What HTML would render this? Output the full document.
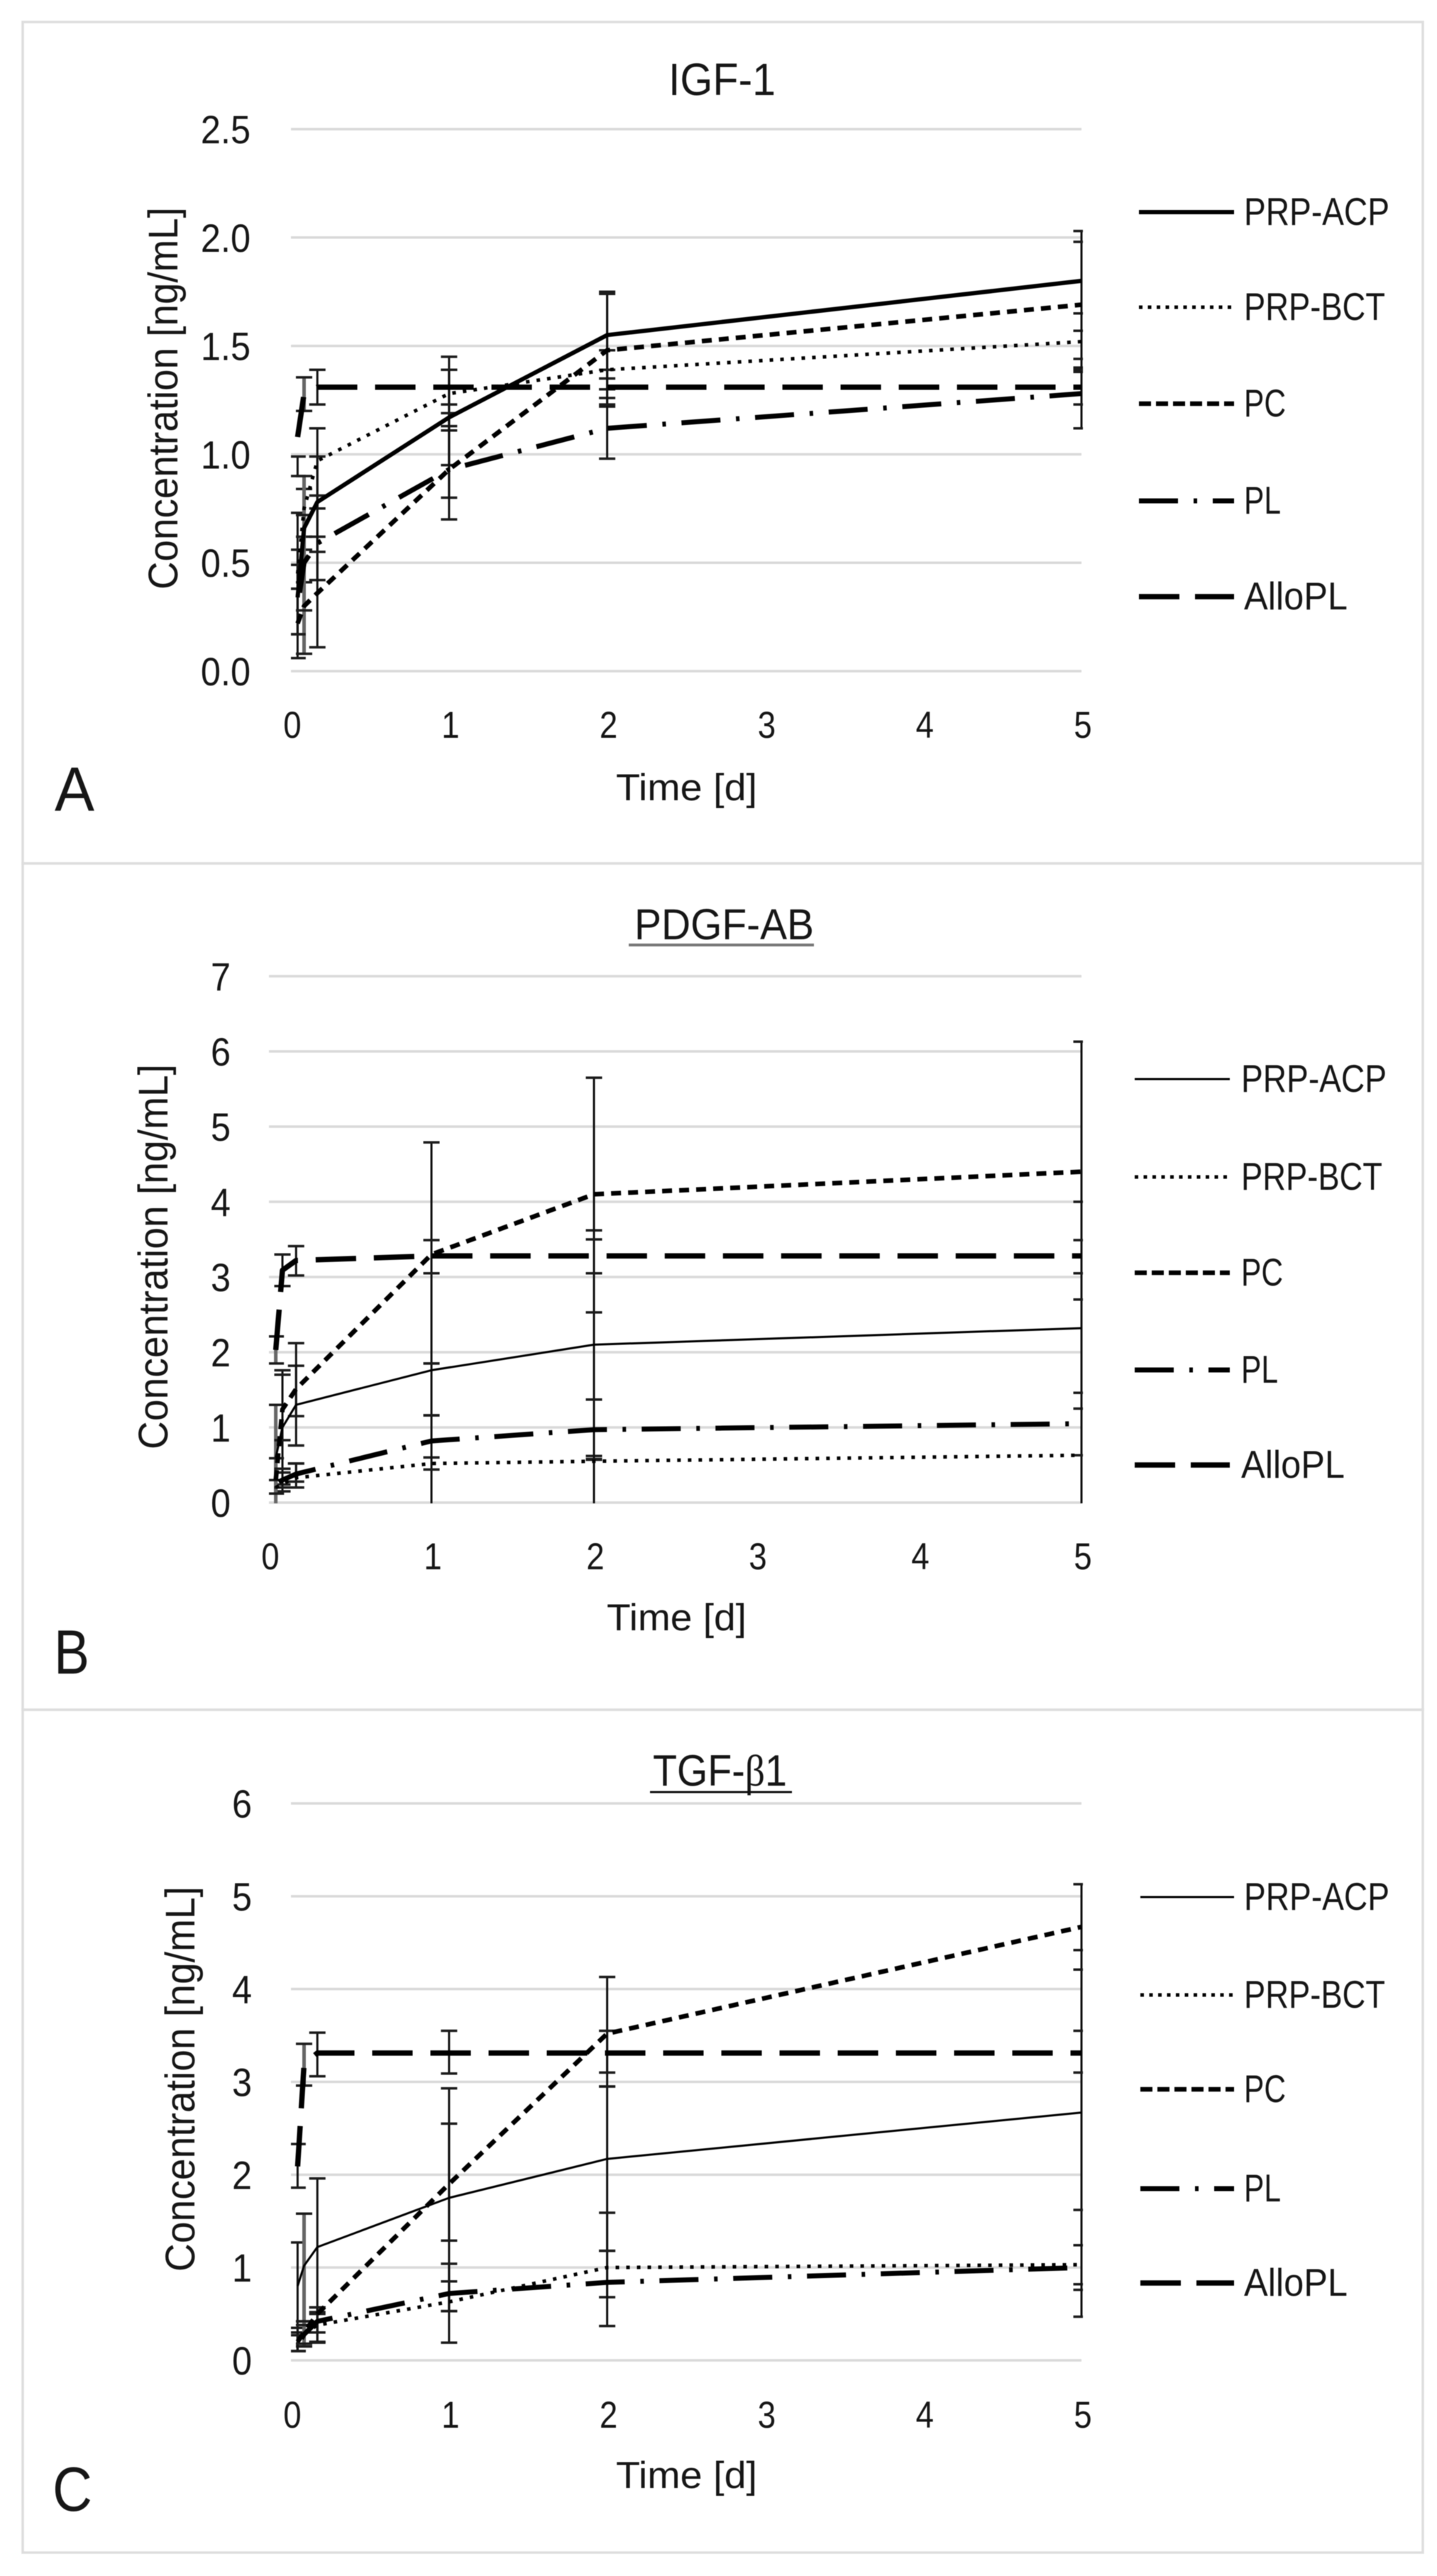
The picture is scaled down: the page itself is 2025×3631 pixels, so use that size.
<!DOCTYPE html>
<html lang="en">
<head>
<meta charset="utf-8">
<title>Growth factor release over time</title>
<style>
html,body{margin:0;padding:0;background:#fff;}
svg{display:block;filter:blur(0.6px);}
text{font-family:"Liberation Sans","DejaVu Sans",sans-serif;fill:#161616;}
</style>
</head>
<body>
<svg id="figure" xmlns="http://www.w3.org/2000/svg" width="2025" height="3631" viewBox="0 0 2025 3631">
  <rect x="0" y="0" width="2025" height="3631" fill="#fff"/>
  <rect x="32" y="31" width="1973" height="1186" fill="none" stroke="#dedede" stroke-width="3.5"/>
  <rect x="32" y="1217" width="1973" height="1193" fill="none" stroke="#dedede" stroke-width="3.5"/>
  <rect x="32" y="2410" width="1973" height="1188" fill="none" stroke="#dedede" stroke-width="3.5"/>

  <text x="942" y="134" font-size="64" textLength="151" lengthAdjust="spacingAndGlyphs">IGF-1</text>
  <text x="868" y="1128" font-size="53" textLength="199" lengthAdjust="spacingAndGlyphs">Time [d]</text>
  <text transform="translate(250,831) rotate(-90)" font-size="58" textLength="539" lengthAdjust="spacingAndGlyphs">Concentration [ng/mL]</text>
  <text x="77" y="1143" font-size="88" textLength="56" lengthAdjust="spacingAndGlyphs">A</text>

  <text x="894" y="1324" font-size="61" textLength="253" lengthAdjust="spacingAndGlyphs">PDGF-AB</text>
  <rect x="886" y="1330" width="261" height="4" fill="#777"/>
  <text x="855" y="2298" font-size="53" textLength="197" lengthAdjust="spacingAndGlyphs">Time [d]</text>
  <text transform="translate(236,2043) rotate(-90)" font-size="58" textLength="543" lengthAdjust="spacingAndGlyphs">Concentration [ng/mL]</text>
  <text x="76" y="2359" font-size="88" textLength="50" lengthAdjust="spacingAndGlyphs">B</text>

  <text x="920" y="2517" font-size="62" textLength="189" lengthAdjust="spacingAndGlyphs">TGF-<tspan font-family="'Liberation Serif',serif">β</tspan>1</text>
  <rect x="916" y="2524.5" width="200" height="3" fill="#111"/>
  <text x="868" y="3507" font-size="53" textLength="199" lengthAdjust="spacingAndGlyphs">Time [d]</text>
  <text transform="translate(274,3202) rotate(-90)" font-size="58" textLength="543" lengthAdjust="spacingAndGlyphs">Concentration [ng/mL]</text>
  <text x="74" y="3539" font-size="88" textLength="56" lengthAdjust="spacingAndGlyphs">C</text>

  <g id="plots"></g>
</svg>
<script>
const times = [0.042, 0.083, 0.167, 1, 2, 5];
const seriesNames = ['PRP-ACP', 'PRP-BCT', 'PC', 'PL', 'AlloPL'];
const legendTextWidths = [205, 199, 59, 52, 146];
const xTickLabels = [0, 1, 2, 3, 4, 5];
const yTicksA = [0, 0.5, 1, 1.5, 2, 2.5];
const yTicksB = [0, 1, 2, 3, 4, 5, 6, 7];
const yTicksC = [0, 1, 2, 3, 4, 5, 6];

const igfAcp = [0.34, 0.66, 0.78, 1.17, 1.55, 1.80];
const igfAcpLow = [0.17, 0.41, 0.42, 0.95, 1.35, 1.57];
const igfAcpHigh = [0.73, 0.84, 1.12, 1.39, 1.75, 2.03];
const igfBct = [0.45, 0.75, 0.97, 1.28, 1.39, 1.52];
const igfBctLow = [0.38, 0.62, 0.75, 1.11, 1.30, 1.38];
const igfBctHigh = [0.56, 0.90, 0.99, 1.45, 1.48, 1.65];
const igfPc = [0.22, 0.30, 0.36, 0.93, 1.48, 1.69];
const igfPcLow = [0.06, 0.08, 0.11, 0.80, 1.22, 1.40];
const igfPcHigh = [0.38, 0.56, 0.62, 1.13, 1.74, 1.98];
const igfPl = [0.30, 0.50, 0.59, 0.93, 1.12, 1.28];
const igfPlLow = [0.17, 0.28, 0.55, 0.70, 0.98, 1.12];
const igfPlHigh = [0.49, 0.72, 0.81, 1.19, 1.26, 1.44];
const igfAllo = [1.08, 1.28, 1.31, 1.31, 1.31, 1.31];
const igfAlloLow = [0.90, 1.20, 1.23, 1.23, 1.23, 1.23];
const igfAlloHigh = [0.99, 1.355, 1.39, 1.39, 1.39, 1.39];

const pdgfAcp = [0.6, 1.0, 1.3, 1.76, 2.1, 2.32];
const pdgfAcpLow = [-0.1, 0.24, 0.76, 1.16, 0.58, 0.63];
const pdgfAcpHigh = [1.3, 1.76, 1.82, 1.85, 3.62, 4.0];
const pdgfBct = [0.2, 0.25, 0.33, 0.52, 0.55, 0.63];
const pdgfBctLow = [0.12, 0.15, 0.2, -0.1, -0.1, -0.1];
const pdgfBctHigh = [0.3, 0.4, 0.52, 0.6, 0.62, 1.25];
const pdgfPc = [0.3, 1.24, 1.51, 3.3, 4.1, 4.4];
const pdgfPcLow = [0.12, 0.83, 1.15, 1.85, 2.53, 2.7];
const pdgfPcHigh = [0.59, 1.7, 2.12, 4.79, 5.65, 6.13];
const pdgfPl = [0.25, 0.3, 0.38, 0.82, 0.97, 1.05];
const pdgfPlLow = [0.12, 0.2, 0.28, 0.44, 0.57, 0.63];
const pdgfPlHigh = [0.3, 0.45, 0.52, 1.16, 1.37, 1.46];
const pdgfAllo = [2.03, 3.09, 3.22, 3.28, 3.28, 3.28];
const pdgfAlloLow = [1.85, 2.88, 3.02, 3.05, 3.05, 3.05];
const pdgfAlloHigh = [2.21, 3.3, 3.41, 3.49, 3.5, 3.49];

const tgfAcp = [0.8, 1.02, 1.22, 1.75, 2.17, 2.67];
const tgfAcpLow = [0.1, 0.3, 0.5, 0.53, 1.18, 0.82];
const tgfAcpHigh = [1.27, 1.58, 1.96, 2.93, 2.95, 4.42];
const tgfBct = [0.2, 0.28, 0.38, 0.63, 1.0, 1.03];
const tgfBctLow = [0.1, 0.15, 0.2, 0.19, 0.68, 0.76];
const tgfBctHigh = [0.3, 0.42, 0.57, 1.04, 1.59, 1.24];
const tgfPc = [0.2, 0.3, 0.5, 1.9, 3.52, 4.67];
const tgfPcLow = [0.1, 0.15, 0.19, 1.29, 2.95, 4.21];
const tgfPcHigh = [0.35, 0.42, 0.57, 2.55, 4.13, 5.13];
const tgfPl = [0.17, 0.28, 0.42, 0.72, 0.84, 1.0];
const tgfPlLow = [0.1, 0.18, 0.3, 0.53, 0.37, 0.47];
const tgfPlHigh = [0.27, 0.38, 0.52, 0.85, 1.18, 1.62];
const tgfAllo = [2.09, 3.19, 3.31, 3.31, 3.31, 3.31];
const tgfAlloLow = [1.86, 2.96, 3.06, 3.09, 3.1, 3.1];
const tgfAlloHigh = [2.33, 3.41, 3.53, 3.55, 3.55, 3.55];

const NS = 'http://www.w3.org/2000/svg';
const root = document.getElementById('plots');

function mk(tag, parent, attrs) {
  const el = document.createElementNS(NS, tag);
  for (const k in attrs) el.setAttribute(k, attrs[k]);
  parent.appendChild(el);
  return el;
}

const seriesStyle = [
  {dash: '', width: 6, legendDash: ''},
  {dash: '5 10', width: 5, legendDash: '5 7.5'},
  {dash: '14 10', width: 6.5, legendDash: '17 7'},
  {dash: '55 22 5 22', width: 7, legendDash: '55 22 5 22'},
  {dash: '57 25', width: 7.5, legendDash: '57 22'}
];

function condense(label, ratio) {
  label.setAttribute('textLength', (label.getComputedTextLength() * ratio).toFixed(1));
  label.setAttribute('lengthAdjust', 'spacingAndGlyphs');
}

function drawPanel(p) {
  const g = mk('g', root, {});
  
  
  const sx = t => p.x0 + (t / 5) * (p.x1 - p.x0);
  const sy = v => p.y0 - (v / p.yMax) * (p.y0 - p.yTop);

  const clip = mk('clipPath', g, {id: p.id + '-clip'});
  mk('rect', clip, {x: p.x0, y: p.yTop - 20, width: p.x1 - p.x0 + 2, height: p.y0 - p.yTop + 21});

  p.yTicks.forEach(v => {
    const line = mk('line', g, {x1: p.x0, x2: p.x1, y1: sy(v), y2: sy(v), stroke: '#d9d9d9', 'stroke-width': 3.5});
    
    
    const label = mk('text', g, {x: p.yLabelX, y: sy(v) + 20, 'font-size': 56, 'text-anchor': 'end'});
    
    
    label.textContent = p.yDecimals ? v.toFixed(p.yDecimals) : String(v);
    condense(label, 0.9);
  });

  xTickLabels.forEach(v => {
    const label = mk('text', g, {x: sx(v) + 2, y: p.xLabelY, 'font-size': 53, 'text-anchor': 'middle'});
    
    
    label.textContent = String(v);
    condense(label, 0.86);
  });

  const marks = mk('g', g, {'clip-path': 'url(#' + p.id + '-clip)'});
  
  

  p.series.forEach((s, si) => {
    times.forEach((t, i) => {
      const x = sx(t);
      const grey = i === p.greyIndex;
      const colour = grey ? '#666' : '#111';
      const w = grey ? 5 : 3;
      const bar = mk('line', marks, {x1: x, x2: x, y1: sy(s.low[i]), y2: sy(s.high[i]), stroke: colour, 'stroke-width': w});
      
      
      [s.low[i], s.high[i]].forEach(v => {
        const cap = mk('line', marks, {x1: x - 11.5, x2: x + 11.5, y1: sy(v), y2: sy(v), stroke: '#1c1c1c', 'stroke-width': 3.5});
        
        
      });
    });
  });

  p.series.forEach((s, si) => {
    const style = seriesStyle[si];
    const w = (si === 0) ? p.acpWidth : style.width;
    const d = times.map((t, i) => (i ? 'L' : 'M') + sx(t).toFixed(1) + ' ' + sy(s.values[i]).toFixed(1)).join(' ');
    const path = mk('path', marks, {d: d, fill: 'none', stroke: '#000', 'stroke-width': w, 'stroke-dasharray': style.dash || 'none', 'stroke-dashoffset': si === 3 ? p.plDashOffset : 0, 'stroke-linejoin': 'round'});
    
    

    const ly = p.legendY[si];
    const sample = mk('line', g, {x1: p.legendX1, x2: p.legendX2, y1: ly, y2: ly, stroke: '#000', 'stroke-width': w, 'stroke-dasharray': style.legendDash || 'none'});
    
    
    const txt = mk('text', g, {x: p.legendTextX, y: ly + 18, 'font-size': 55, textLength: legendTextWidths[si], lengthAdjust: 'spacingAndGlyphs'});
    
    
    txt.textContent = seriesNames[si];
  });
}

drawPanel({
  id: 'panel-a', x0: 410, x1: 1524, y0: 946, yTop: 182, yMax: 2.5, yTicks: yTicksA, yDecimals: 1,
  yLabelX: 353, xLabelY: 1040, greyIndex: 1, acpWidth: 6, plDashOffset: 85,
  legendX1: 1605, legendX2: 1739, legendTextX: 1753, legendY: [299, 433, 569, 706, 841],
  series: [
    {values: igfAcp, low: igfAcpLow, high: igfAcpHigh},
    {values: igfBct, low: igfBctLow, high: igfBctHigh},
    {values: igfPc, low: igfPcLow, high: igfPcHigh},
    {values: igfPl, low: igfPlLow, high: igfPlHigh},
    {values: igfAllo, low: igfAlloLow, high: igfAlloHigh}
  ]
});

drawPanel({
  id: 'panel-b', x0: 379, x1: 1524, y0: 2118, yTop: 1376, yMax: 7, yTicks: yTicksB, yDecimals: 0,
  yLabelX: 325, xLabelY: 2212, greyIndex: 0, acpWidth: 3, plDashOffset: 99,
  legendX1: 1599, legendX2: 1733, legendTextX: 1749, legendY: [1521, 1659, 1794, 1931, 2065],
  series: [
    {values: pdgfAcp, low: pdgfAcpLow, high: pdgfAcpHigh},
    {values: pdgfBct, low: pdgfBctLow, high: pdgfBctHigh},
    {values: pdgfPc, low: pdgfPcLow, high: pdgfPcHigh},
    {values: pdgfPl, low: pdgfPlLow, high: pdgfPlHigh},
    {values: pdgfAllo, low: pdgfAlloLow, high: pdgfAlloHigh}
  ]
});

drawPanel({
  id: 'panel-c', x0: 410, x1: 1524, y0: 3327, yTop: 2542, yMax: 6, yTicks: yTicksC, yDecimals: 0,
  yLabelX: 355, xLabelY: 3422, greyIndex: 1, acpWidth: 3, plDashOffset: 94,
  legendX1: 1607, legendX2: 1739, legendTextX: 1753, legendY: [2674, 2812, 2945, 3085, 3218],
  series: [
    {values: tgfAcp, low: tgfAcpLow, high: tgfAcpHigh},
    {values: tgfBct, low: tgfBctLow, high: tgfBctHigh},
    {values: tgfPc, low: tgfPcLow, high: tgfPcHigh},
    {values: tgfPl, low: tgfPlLow, high: tgfPlHigh},
    {values: tgfAllo, low: tgfAlloLow, high: tgfAlloHigh}
  ]
});
</script>
</body>
</html>
